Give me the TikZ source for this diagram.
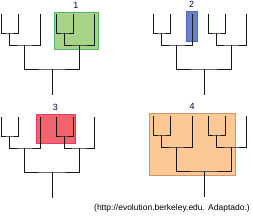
\documentclass[tikz,border=0pt]{standalone}
\usepackage{fontspec}
\setmainfont{Liberation Sans}
\definecolor{cgreen}{RGB}{166,211,136}
\definecolor{cgreenline}{RGB}{80,185,105}
\definecolor{cblue}{RGB}{102,130,200}
\definecolor{cblueline}{RGB}{75,105,190}
\definecolor{cred}{RGB}{240,100,110}
\definecolor{credline}{RGB}{230,55,110}
\definecolor{corange}{RGB}{252,200,150}
\definecolor{corangeline}{RGB}{205,150,100}
\usetikzlibrary{positioning}

\begin{document}
\begin{tikzpicture}[x=1pt, y=-1pt,
  branch/.style={draw=black!90, line width=0.9pt},
  clade/.style={rectangle, line width=0.9pt, inner sep=0pt},
  num/.style={font=\fontsize{9}{10}\selectfont, text=black!70!blue, inner sep=0pt},
  src/.style={font=\fontsize{8.5}{10}\selectfont, inner sep=0pt}
]
\useasboundingbox (0,0) rectangle (253,219);

% Highlighted clades
\node[clade, draw=cgreenline, fill=cgreen, minimum width=44pt, minimum height=37pt]
  (box1) at (76,30.5) {};
\node[clade, draw=cblueline, fill=cblue, minimum width=11pt, minimum height=30pt]
  (box2) at (191.5,26) {};
\node[clade, draw=credline, fill=cred, minimum width=39pt, minimum height=29pt]
  (box3) at (55.5,128.5) {};
\node[clade, draw=corangeline, fill=corange, minimum width=86pt, minimum height=62pt]
  (box4) at (192,144) {};

\node[num, above=3pt of box1] (num1) {1};
\node[num, above=3pt of box2] (num2) {2};
\node[num, above=3pt of box3] (num3) {3};
\node[num, above=3pt of box4] (num4) {4};

% Trees
\foreach \t/\ox/\oy in {a/1/14, b/153/14, c/1/117, d/153/116} {
  \begin{scope}[shift={(\ox,\oy)}]
    \coordinate (\t-l1) at (0,0);
    \coordinate (\t-l2) at (17,0);
    \coordinate (\t-l3) at (39,0);
    \coordinate (\t-l4) at (55,0);
    \coordinate (\t-l5) at (72,0);
    \coordinate (\t-l6) at (93,0);
    \coordinate (\t-p1) at (8.5,19);
    \coordinate (\t-p2) at (63.5,19);
    \coordinate (\t-q1) at (23.75,31);
    \coordinate (\t-q2) at (78.25,31);
    \coordinate (\t-r) at (51,55);
    \coordinate (\t-base) at (51,81);
    \draw[branch] (\t-l1) |- (\t-p1) -| (\t-l2);
    \draw[branch] (\t-l4) |- (\t-p2) -| (\t-l5);
    \draw[branch] (\t-p1) |- (\t-q1) -| (\t-l3);
    \draw[branch] (\t-p2) |- (\t-q2) -| (\t-l6);
    \draw[branch] (\t-q1) |- (\t-r) -| (\t-q2);
    \draw[branch] (\t-r) -- (\t-base);
  \end{scope}
}

\node[src, anchor=east] (source) at (250,208.5) {(http://evolution.berkeley.edu. Adaptado.)};
\end{tikzpicture}
\end{document}
